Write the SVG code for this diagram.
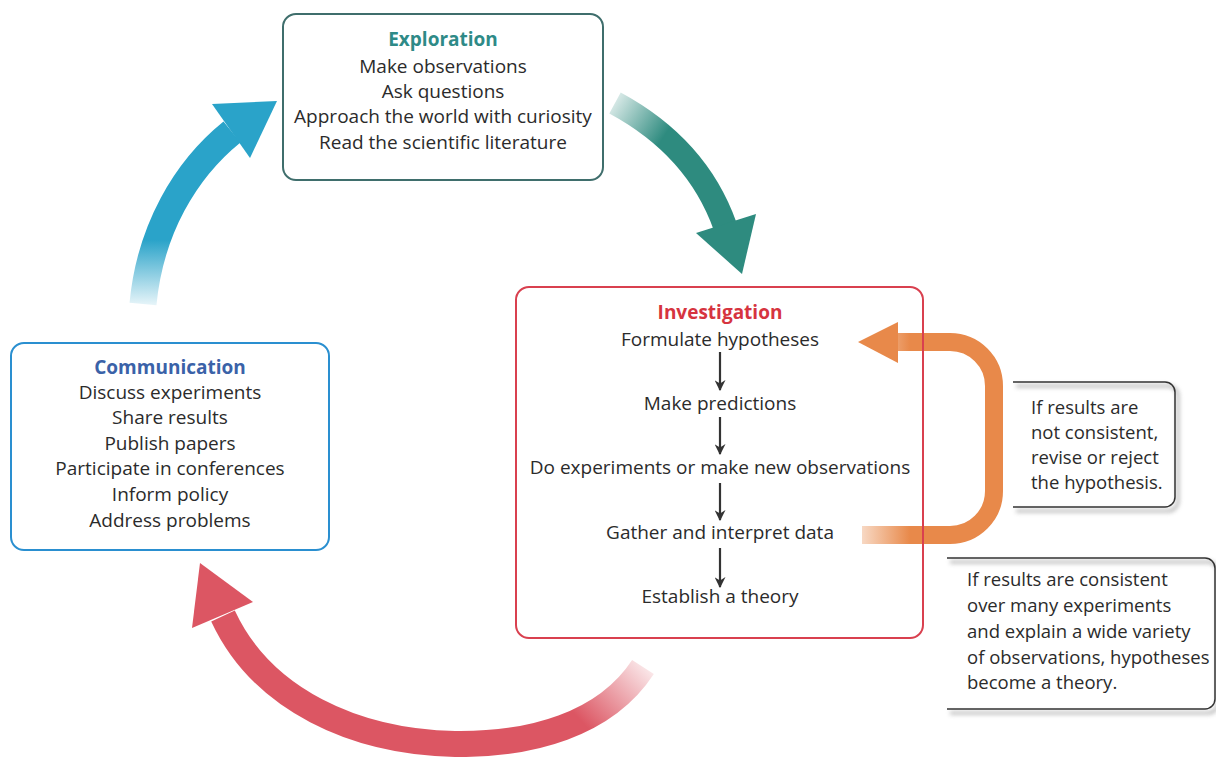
<svg xmlns="http://www.w3.org/2000/svg" width="1216" height="757" viewBox="0 0 1216 757">
<defs>
<style>
.t{font-family:"Open Sans","Liberation Sans",sans-serif;font-size:19px;fill:#2b2b2b;text-anchor:middle}
.tl{font-family:"Open Sans","Liberation Sans",sans-serif;font-size:18.5px;fill:#2b2b2b;text-anchor:start}
.h{font-family:"Open Sans","Liberation Sans",sans-serif;font-size:19px;font-weight:bold;text-anchor:middle}
.box{fill:none;stroke-width:2}
.step{stroke:#333;stroke-width:2.2;fill:none;marker-end:url(#ah)}
.call{fill:none;stroke:#333;stroke-width:1.5}
.shadow{fill:none;stroke:#999;stroke-width:3;filter:url(#blur);opacity:0.7}
</style>
<marker id="ah" viewBox="0 0 10 10" refX="9" refY="5" markerWidth="11" markerHeight="11" markerUnits="userSpaceOnUse" orient="auto">
<path d="M0,0 L10,5 L0,10 L3,5 Z" fill="#333"/>
</marker>
<filter id="blur" x="-10%" y="-10%" width="120%" height="120%"><feGaussianBlur stdDeviation="2"/></filter>
<linearGradient id="gBlue" gradientUnits="userSpaceOnUse" x1="0" y1="306" x2="0" y2="240">
<stop offset="0" stop-color="#2aa3c9" stop-opacity="0.1"/><stop offset="1" stop-color="#2aa3c9"/>
</linearGradient>
<linearGradient id="gTeal" gradientUnits="userSpaceOnUse" x1="612" y1="100" x2="665" y2="135">
<stop offset="0" stop-color="#2e8b7f" stop-opacity="0.15"/><stop offset="1" stop-color="#2e8b7f"/>
</linearGradient>
<linearGradient id="gRed" gradientUnits="userSpaceOnUse" x1="648" y1="665" x2="585" y2="725">
<stop offset="0" stop-color="#dc5663" stop-opacity="0.12"/><stop offset="1" stop-color="#dc5663"/>
</linearGradient>
<linearGradient id="gOrange" gradientUnits="userSpaceOnUse" x1="860" y1="0" x2="910" y2="0">
<stop offset="0" stop-color="#e8894a" stop-opacity="0.3"/><stop offset="1" stop-color="#e8894a"/>
</linearGradient>
</defs>
<rect width="1216" height="757" fill="#fff"/>

<g id="connectors">
<path d="M143,304 C150,230 185,170 232,132" fill="none" stroke="url(#gBlue)" stroke-width="27"/>
<polygon points="277,101 212,104 250,158" fill="#2aa3c9"/>
<path d="M615,103 C665,130 705,170 725,226" fill="none" stroke="url(#gTeal)" stroke-width="24"/>
<polygon points="742,274 696,233 756,214" fill="#2e8b7f"/>
<path d="M643,667 C605,725 530,745 455,744 C355,742 262,700 223,616" fill="none" stroke="url(#gRed)" stroke-width="26"/>
<polygon points="200,563 192,628 253,602" fill="#dc5663"/>
<path d="M862,535 H950 A44,44 0 0 0 994,491 V386 A44,44 0 0 0 950,342 H893" fill="none" stroke="url(#gOrange)" stroke-width="18"/>
<polygon points="858,342 898,322 898,363" fill="#e8894a"/>
</g>

<g id="exploration">
<rect class="box" x="283" y="14" width="320" height="166" rx="13" stroke="#3f6e6c"/>
<text class="h" x="443" y="46" fill="#2e8a87">Exploration</text>
<text class="t" x="443" y="73">Make observations</text>
<text class="t" x="443" y="98">Ask questions</text>
<text class="t" x="443" y="123">Approach the world with curiosity</text>
<text class="t" x="443" y="149">Read the scientific literature</text>
</g>

<g id="investigation">
<rect class="box" x="516" y="287" width="407" height="351" rx="13" stroke="#d9404f"/>
<text class="h" x="720" y="319" fill="#d6343f">Investigation</text>
<text class="t" x="720" y="346">Formulate hypotheses</text>
<text class="t" x="720" y="410">Make predictions</text>
<text class="t" x="720" y="474">Do experiments or make new observations</text>
<text class="t" x="720" y="539">Gather and interpret data</text>
<text class="t" x="720" y="603">Establish a theory</text>
<line class="step" x1="720" y1="352" x2="720" y2="390"/>
<line class="step" x1="720" y1="417" x2="720" y2="454"/>
<line class="step" x1="720" y1="483" x2="720" y2="520"/>
<line class="step" x1="720" y1="548" x2="720" y2="587"/>
</g>

<g id="communication">
<rect class="box" x="11" y="343" width="318" height="207" rx="13" stroke="#2a8fd0"/>
<text class="h" x="170" y="374" fill="#3a62a8">Communication</text>
<text class="t" x="170" y="399">Discuss experiments</text>
<text class="t" x="170" y="424">Share results</text>
<text class="t" x="170" y="450">Publish papers</text>
<text class="t" x="170" y="475">Participate in conferences</text>
<text class="t" x="170" y="501">Inform policy</text>
<text class="t" x="170" y="527">Address problems</text>
</g>

<g id="note-inconsistent">
<path class="shadow" d="M1016,386 H1168 A10,10 0 0 1 1178,396 V501 A10,10 0 0 1 1168,511 H1016"/>
<path class="call" d="M1013,382 H1165 A10,10 0 0 1 1175,392 V497 A10,10 0 0 1 1165,507 H1013"/>
<text class="tl" x="1031" y="414">If results are</text>
<text class="tl" x="1031" y="439">not consistent,</text>
<text class="tl" x="1031" y="464">revise or reject</text>
<text class="tl" x="1031" y="489">the hypothesis.</text>
</g>

<g id="note-consistent">
<path class="shadow" d="M950,562 H1208 A10,10 0 0 1 1218,572 V703 A10,10 0 0 1 1208,713 H950"/>
<path class="call" d="M947,558 H1205 A10,10 0 0 1 1215,568 V699 A10,10 0 0 1 1205,709 H947"/>
<text class="tl" x="967" y="586">If results are consistent</text>
<text class="tl" x="967" y="612">over many experiments</text>
<text class="tl" x="967" y="638">and explain a wide variety</text>
<text class="tl" x="967" y="664">of observations, hypotheses</text>
<text class="tl" x="967" y="689">become a theory.</text>
</g>
</svg>
